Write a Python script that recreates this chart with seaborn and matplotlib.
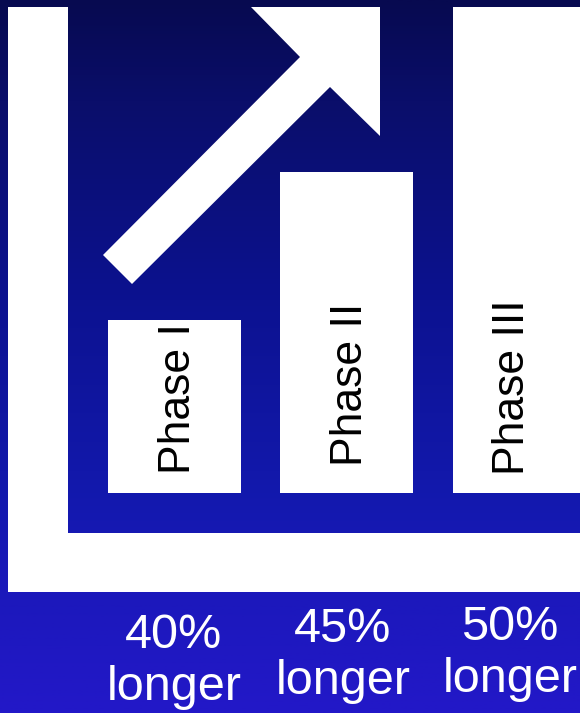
import numpy as np
import pandas as pd
import matplotlib
matplotlib.use("Agg")
import matplotlib.pyplot as plt
from matplotlib.patches import Polygon, Rectangle
from matplotlib.colors import LinearSegmentedColormap
import seaborn as sns

# ---- data ----
phases = ["Phase I", "Phase II", "Phase III"]
heights = [35.6, 66.0, 100.0]          # relative bar heights (top of chart = 100)
bottom_labels = ["40%\nlonger", "45%\nlonger", "50%\nlonger"]

sns.set_theme(style="white")
plt.rcParams["font.family"] = ["Liberation Sans", "DejaVu Sans"]

W, H = 580, 713
fig = plt.figure(figsize=(W / 100, H / 100), dpi=100)

# background axes in pixel coordinates
bg = fig.add_axes([0, 0, 1, 1])
bg.set_xlim(0, W)
bg.set_ylim(H, 0)
bg.axis("off")

stops = [(0.0, (7, 10, 80)), (0.14, (10, 14, 106)), (0.42, (12, 18, 144)),
         (0.70, (19, 25, 174)), (0.84, (28, 24, 188)), (1.0, (35, 24, 200))]
cmap = LinearSegmentedColormap.from_list(
    "bgblue", [(p, tuple(c / 255 for c in rgb)) for p, rgb in stops])
grad = np.linspace(0, 1, 512).reshape(-1, 1)
bg.imshow(grad, cmap=cmap, aspect="auto", extent=[0, W, H, 0], zorder=0)

# L-shaped axis frame
bg.add_patch(Rectangle((8, 7), 60, 585, facecolor="white", edgecolor="none", zorder=1))
bg.add_patch(Rectangle((8, 533), W - 8, 59, facecolor="white", edgecolor="none", zorder=1))

# rising arrow
arrow = [(103, 255), (300, 57), (251, 7), (380, 7), (380, 136), (330, 87), (132, 284)]
bg.add_patch(Polygon(arrow, closed=True, facecolor="white", edgecolor="none", zorder=1))

# bar axes: category centers at px 174, 346.5 (unit = 172.5 px)
unit = 172.5
left_px, right_px, top_px, base_px = 68, W, 7, 493
ax = fig.add_axes([left_px / W, (H - base_px) / H,
                   (right_px - left_px) / W, (base_px - top_px) / H])
ax.patch.set_alpha(0)
df = pd.DataFrame({"phase": phases, "height": heights})
sns.barplot(data=df, x="phase", y="height", color="white", width=133 / unit,
            saturation=1, edgecolor="none", linewidth=0, ax=ax)
ax.set_xlim(-(174 - left_px) / unit, (right_px - 174) / unit)
ax.set_ylim(0, 100)
ax.axis("off")

# labels inside bars (pixel coordinates of background axes, drawn above bars)
text_x = [178, 351, 512]
text_y = [399, 384, 387]
for lab, x, y in zip(phases, text_x, text_y):
    ax.text(x, y, lab, rotation=90, ha="center", va="center",
            fontsize=32, color="black", zorder=5, transform=bg.transData,
            clip_on=False)

# labels under the axis
lab_x = [174, 343, 510]
lab_y = [662, 656, 654]
for lab, x, y in zip(bottom_labels, lab_x, lab_y):
    bg.text(x, y, lab, ha="center", va="center", fontsize=35,
            color="white", linespacing=1.2, zorder=3)

fig.savefig("out.png", dpi=100)
